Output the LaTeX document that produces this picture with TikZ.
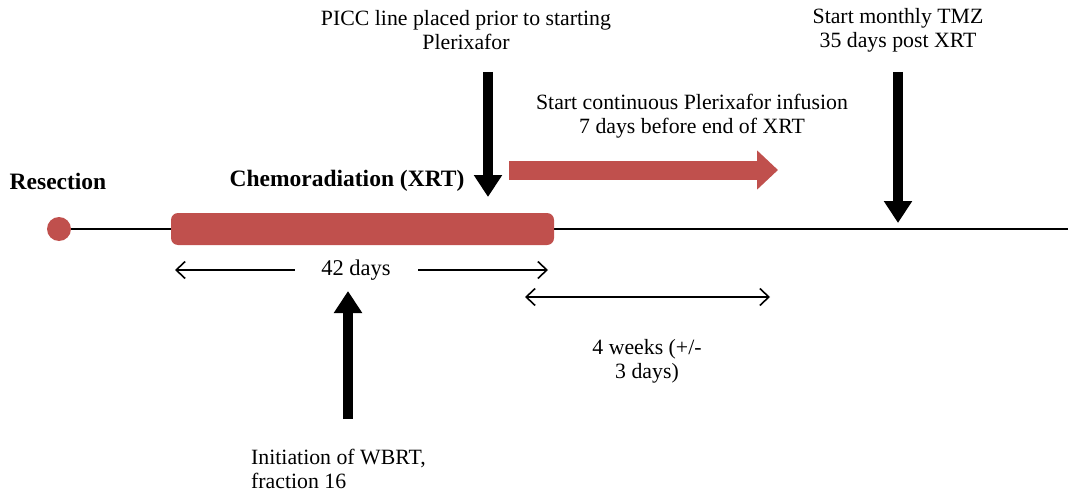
\documentclass[tikz,border=0pt]{standalone}
\usepackage{fontspec}
\setmainfont{Liberation Serif}
\usetikzlibrary{positioning,arrows.meta}
\definecolor{xrtred}{HTML}{C0504D}
\tikzset{
  lbl/.style={font=\fontsize{21.8}{24}\selectfont,align=center,inner sep=0pt},
  head/.style={font=\fontsize{23.5}{26}\selectfont\bfseries,inner sep=0pt},
  bigdown/.style={line width=10pt,-{Triangle[length=22pt,width=27pt]}},
  span/.style={line width=1.6pt,{Straight Barb[length=9pt,width=17pt]}-{Straight Barb[length=9pt,width=17pt]}},
  halfspan/.style={line width=1.6pt},
}
\begin{document}
\begin{tikzpicture}[x=1pt,y=-1pt]
\useasboundingbox (0,0) rectangle (1068,495);
% timeline
\coordinate (start) at (59,229);
\coordinate (end) at (1068,229);
\draw[line width=1.6pt] (start) -- (end);
\fill[xrtred] (start) circle (12);
\fill[xrtred,rounded corners=7pt] (171,213) rectangle (554,245);
\path (58,181) node[head] (resection) {Resection}
(347,181) node[head] (xrt) {Chemoradiation (XRT)};
% top labels
\path (466,30) node[lbl] (picc) {PICC line placed prior to starting\\Plerixafor}
(692,116) node[lbl] (infuse) {Start continuous Plerixafor infusion\\7 days before end of XRT}
(898,30) node[lbl] (tmz) {Start monthly TMZ\\35 days post XRT};
\coordinate (picctop) at (488,72);
\coordinate (picctip) at (488,197);
\coordinate (tmztop) at (898,72);
\coordinate (tmztip) at (898,223);
\draw[bigdown] (picctop) -- (picctip);
\draw[bigdown] (tmztop) -- (tmztip);
\coordinate (inftail) at (509,170);
\coordinate (inftip) at (778,170);
\draw[xrtred,line width=19pt,-{Triangle[length=21pt,width=38pt]}] (inftail) -- (inftip);
% durations
\path (356,270) node[lbl,font=\fontsize{22.5}{24}\selectfont] (days) {42 days};
\coordinate (dleft) at (175,270);
\coordinate (dright) at (548,270);
\draw[halfspan,{Straight Barb[length=9pt,width=17pt]}-] (dleft) -- (295,270);
\draw[halfspan,-{Straight Barb[length=9pt,width=17pt]}] (418,270) -- (dright);
\coordinate (wleft) at (525,297);
\coordinate (wright) at (770,297);
\draw[span] (wleft) -- (wright);
\path (647,361) node[lbl] (weeks) {4 weeks (+/-\\3 days)};
% WBRT
\path (251,469) node[lbl,anchor=west,align=left] (wbrt) {Initiation of WBRT,\\fraction 16};
\coordinate (wbrtbase) at (348,419);
\coordinate (wbrttip) at (348,291);
\draw[bigdown] (wbrtbase) -- (wbrttip);
\end{tikzpicture}
\end{document}
